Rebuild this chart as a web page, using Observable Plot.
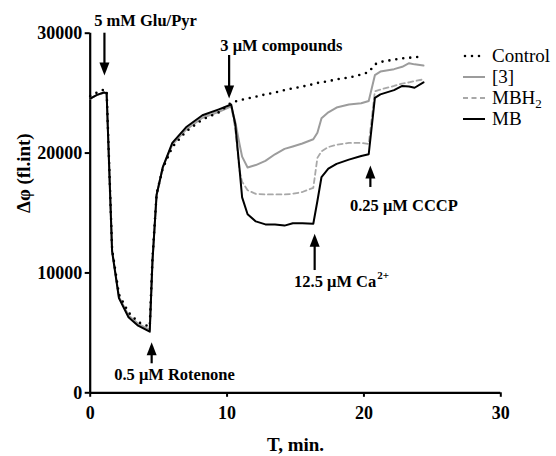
<!DOCTYPE html>
<html>
<head>
<meta charset="utf-8">
<script src="https://cdn.jsdelivr.net/npm/d3@7"></script>
<script src="https://cdn.jsdelivr.net/npm/@observablehq/plot@0.6"></script>
<style>
  html, body { margin: 0; padding: 0; background: #fff; }
  #chart { position: relative; width: 556px; height: 456px; }
</style>
</head>
<body>
<div id="chart"></div>
<script>
// ---- data ----
const time = [0, 0.5, 1.0, 1.2, 1.6, 2.1, 2.8, 3.5, 4.35, 4.55, 4.85, 5.3, 6.0, 7.0, 8.2, 9.4, 10.3,
  10.6, 10.9, 11.1, 11.5, 12.1, 12.8, 13.5, 14.2, 14.8, 15.5, 16.3, 16.6, 16.9, 17.4, 18.0, 18.9, 19.8, 20.35,
  20.8, 21.2, 22.2, 22.8, 23.3, 23.7, 24.35];

const controlValues = [24750, 25050, 25300, 25250, 12000, 8200, 6700, 5900, 5500, 11200, 16600, 18700, 20500, 21800, 22800, 23400, 24200,
  24300, 24400, 24450, 24550, 24700, 24900, 25050, 25250, 25400, 25550, 25750, 25850, 25900, 26000, 26150, 26300, 26550, 26750,
  27400, 27600, 27800, 27900, 27950, 28000, 28050];

const cmp3Values = [24550, 24850, 25050, 25000, 11900, 8000, 6450, 5750, 5250, 11000, 16500, 18800, 20700, 21950, 22950, 23450, 23900,
  22600, 20800, 19700, 18800, 19000, 19350, 19900, 20350, 20550, 20800, 21150, 21700, 22900, 23400, 23800, 24050, 24150, 24350,
  26500, 26800, 27000, 27200, 27500, 27400, 27300];

const mbh2Values = [24550, 24850, 25000, 24950, 11850, 7950, 6400, 5700, 5200, 11000, 16500, 18800, 20750, 22000, 23000, 23500, 23950,
  22000, 18600, 17600, 16900, 16600, 16550, 16550, 16550, 16600, 16750, 17100, 19600, 20150, 20500, 20700, 20850, 20850, 20750,
  25150, 25300, 25600, 25800, 25900, 26000, 26150];

const mbValues = [24550, 24850, 25050, 25000, 11800, 7900, 6300, 5600, 5100, 11000, 16500, 18800, 20850, 22150, 23150, 23650, 24050,
  22400, 18800, 16300, 14900, 14300, 14050, 14050, 13950, 14150, 14150, 14100, 16000, 18000, 18700, 19100, 19450, 19750, 19900,
  24600, 24900, 25250, 25600, 25550, 25450, 25900];

const seriesNames = ["Control", "[3]", "MBH2", "MB"];
const xTicks = [0, 10, 20, 30];
const yTicks = [0, 10000, 20000, 30000];

// annotation arrows (data coordinates): x = time, tail / tip = Δφ
const arrowX    = [1.04, 10.15, 20.47, 16.4, 4.49];
const arrowTail = [30000, 28140, 17130, 10200, 2420];
const arrowTip  = [26470, 24550, 18960, 13270, 4220];

const noteText = ["5 mM Glu/Pyr", "3 μM compounds", "0.25 μM CCCP", "0.5 μM Rotenone"];
const noteX    = [4.04, 13.97, 22.92, 6.16];
const noteY    = [31060, 28950, 15630, 1540];
const caText = "12.5 μM Ca";
const caSup = "2+";
const caX = 20.9;
const caY = 9300;

// ---- build tables ----
const valueSets = {"Control": controlValues, "[3]": cmp3Values, "MBH2": mbh2Values, "MB": mbValues};
const rows = seriesNames.flatMap(s => time.map((t, i) => ({t, v: valueSets[s][i], series: s})));
const bySeries = s => rows.filter(d => d.series === s);

const arrows = arrowX.map((x, i) => {
  const down = arrowTip[i] < arrowTail[i];
  return {x, tail: arrowTail[i], tip: arrowTip[i], down,
          shaftEnd: arrowTip[i] + (down ? 700 : -700)};
});
const notes = noteText.map((text, i) => ({text, x: noteX[i], y: noteY[i]}));

const serif = "'Liberation Serif', 'Times New Roman', serif";

const plot = Plot.plot({
  width: 556,
  height: 456,
  marginLeft: 89.7,
  marginRight: 55.7,
  marginTop: 32.7,
  marginBottom: 63.7,
  style: {fontFamily: serif, fontWeight: "bold", background: "white", overflow: "visible"},
  x: {domain: [0, 30], label: null},
  y: {domain: [0, 30000], label: null},
  marks: [
    Plot.axisX({ticks: xTicks, tickSize: 4.5, tickPadding: 9, strokeWidth: 2, fontSize: 18, fontWeight: "bold", label: null}),
    Plot.axisY({ticks: yTicks, tickSize: 5, tickPadding: 3, strokeWidth: 2, fontSize: 18, fontWeight: "bold",
                tickFormat: d3.format("d"), label: null}),
    Plot.ruleX([0], {y1: 0, y2: 30000, strokeWidth: 2.2}),
    Plot.ruleY([0], {x1: 0, x2: 30, strokeWidth: 2.2}),
    Plot.text(["T, min."], {frameAnchor: "bottom", dy: 52, fontSize: 19, fontWeight: "bold", lineAnchor: "middle"}),
    Plot.text(["Δφ (fl.int)"], {frameAnchor: "left", dx: -66.4, rotate: -90, fontSize: 19, fontWeight: "bold", lineAnchor: "middle"}),

    Plot.line(bySeries("[3]"), {x: "t", y: "v", stroke: "#9c9c9c", strokeWidth: 2}),
    Plot.line(bySeries("MBH2"), {x: "t", y: "v", stroke: "#a8a8a8", strokeWidth: 1.8, strokeDasharray: "5,3.5"}),
    Plot.line(bySeries("MB"), {x: "t", y: "v", stroke: "black", strokeWidth: 2}),
    Plot.line(bySeries("Control"), {x: "t", y: "v", stroke: "black", strokeWidth: 2.6, strokeDasharray: "0,7", strokeLinecap: "round"}),

    Plot.ruleX(arrows, {x: "x", y1: "tail", y2: "shaftEnd", strokeWidth: 2.2}),
    Plot.vector(arrows, {x: "x", y: "tip", length: 13, r: 5, shape: "spike", anchor: "end",
                         rotate: d => d.down ? 180 : 0, fill: "black", stroke: "none"}),

    Plot.text(notes, {x: "x", y: "y", text: "text", fontSize: 16.5, fontWeight: "bold", lineAnchor: "middle"}),
    Plot.text([caText], {x: caX, y: caY, textAnchor: "end", fontSize: 16.5, fontWeight: "bold", lineAnchor: "middle"}),
    Plot.text([caSup], {x: caX, y: caY, dx: 1, dy: -6, textAnchor: "start", fontSize: 11, fontWeight: "bold", lineAnchor: "middle"})
  ]
});

document.getElementById("chart").appendChild(plot);

// ---- legend drawn into the Plot SVG ----
const svg = d3.select(plot);
const legendStyles = {
  "Control": {stroke: "black", width: 2.6, dash: "0,7", cap: "round"},
  "[3]": {stroke: "#9c9c9c", width: 2, dash: null, cap: "butt"},
  "MBH2": {stroke: "#a8a8a8", width: 1.8, dash: "5,3.5", cap: "butt"},
  "MB": {stroke: "black", width: 2, dash: null, cap: "butt"}
};
const lg = svg.append("g")
  .style("font-family", serif).style("font-size", "19px")
  .style("font-weight", "normal").attr("text-anchor", "start");
seriesNames.forEach((name, i) => {
  const y = 56 + i * 21;
  const st = legendStyles[name];
  lg.append("line")
    .attr("x1", name === "Control" ? 465 : 463).attr("x2", 485)
    .attr("y1", y).attr("y2", y)
    .attr("stroke", st.stroke).attr("stroke-width", st.width)
    .attr("stroke-dasharray", st.dash).attr("stroke-linecap", st.cap);
  const t = lg.append("text").attr("x", 492).attr("y", y).attr("dy", "0.33em")
    .attr("text-anchor", "start")
    .style("font-family", serif).style("font-weight", "normal");
  if (name === "MBH2") {
    t.append("tspan").text("MBH");
    t.append("tspan").style("font-size", "13px").attr("dy", "0.3em").text("2");
  } else {
    t.text(name);
  }
});
</script>
</body>
</html>
